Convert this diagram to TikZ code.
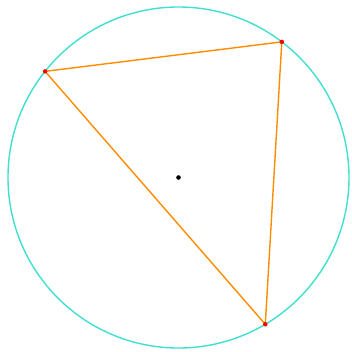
\documentclass[tikz,border=0pt]{standalone}
\usepackage{amsmath,amssymb}
\usepackage{tikz}
\definecolor{rim}{RGB}{64,224,208}
\definecolor{side}{RGB}{255,140,0}
\tikzset{vtx/.style={circle,fill=red,inner sep=0pt,minimum size=4.5pt}}
\begin{document}
\begin{tikzpicture}[x=1pt,y=1pt]
\useasboundingbox (-178.5,-173.5) rectangle (173.5,177.5);
\coordinate (O) at (0,0);
\coordinate (a) at (141.5:170.5);
\coordinate (b) at (52.7:170.5);
\coordinate (c) at (-59.4:170.5);
\draw[rim,line width=1.4pt] (O) circle (170.5);
\draw[side,line width=1.4pt] (a) -- (b) -- (c) -- cycle;
\node[vtx] (A) at (a) {};
\node[vtx] (B) at (b) {};
\node[vtx] (C) at (c) {};
\filldraw[black] (O) circle (2);
\end{tikzpicture}
\end{document}
